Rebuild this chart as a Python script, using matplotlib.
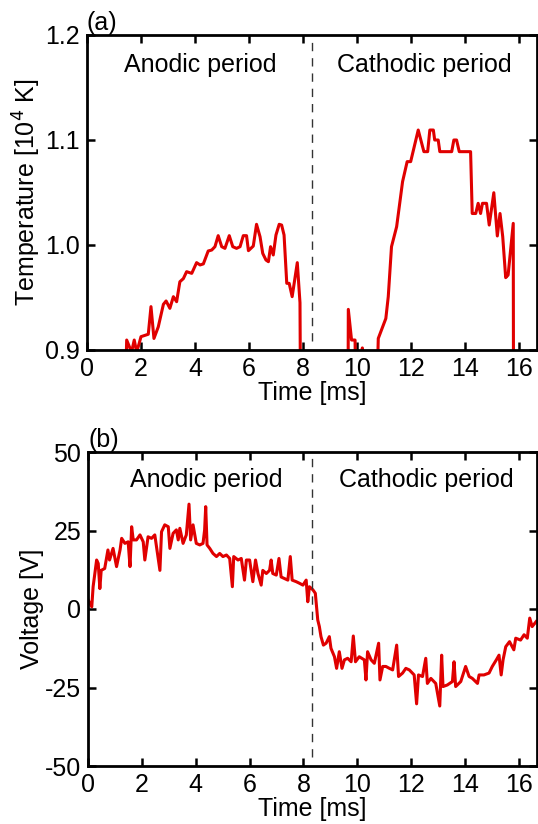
import matplotlib
matplotlib.use("Agg")
import matplotlib.pyplot as plt
from matplotlib.ticker import FormatStrFormatter, MultipleLocator

plt.rcParams['font.family'] = ['Liberation Sans', 'DejaVu Sans']
plt.rcParams['axes.unicode_minus'] = False

# ---------------- data ----------------
# Panel (a): temperature [10^4 K] vs time [ms]; values below 0.9 are off-scale
temp_time = [1.44, 1.47, 1.65, 1.75, 1.84, 1.93, 2.00, 2.27, 2.37, 2.48, 2.64, 2.83, 2.93, 3.07,
             3.20, 3.32, 3.44, 3.57, 3.69, 3.88, 4.06, 4.19, 4.31, 4.49, 4.62, 4.74, 4.86, 4.99,
             5.11, 5.27, 5.40, 5.54, 5.67, 5.79, 5.91, 5.98, 6.16, 6.28, 6.41, 6.51, 6.63, 6.72,
             6.80, 6.90, 7.00, 7.12, 7.21, 7.30, 7.40, 7.49, 7.60, 7.79, 7.89, 7.91,
             9.67, 9.68, 9.80, 9.93, 9.96, 10.15, 10.20, 10.25, 10.73, 10.79, 11.07, 11.16, 11.28,
             11.47, 11.69, 11.86, 11.99, 12.27, 12.48, 12.62, 12.70, 12.83, 12.88, 13.01, 13.07,
             13.51, 13.59, 13.69, 13.79, 14.21, 14.27, 14.40, 14.49, 14.58, 14.65, 14.80, 14.90,
             15.07, 15.20, 15.30, 15.40, 15.51, 15.60, 15.79, 15.80]
temp_value = [0.880, 0.9095, 0.898, 0.9095, 0.898, 0.906, 0.9127, 0.915, 0.9413, 0.911, 0.922,
              0.9435, 0.9467, 0.9397, 0.9508, 0.946, 0.965, 0.968, 0.9746, 0.973, 0.9832, 0.981,
              0.982, 0.9943, 0.9952, 0.9984, 1.0089, 0.9984, 0.9968, 1.0089, 0.9984, 0.9968,
              0.9984, 1.0089, 1.0089, 0.9946, 0.999, 1.0197, 1.0079, 0.992, 0.9857, 0.9841,
              0.9984, 0.9905, 1.0095, 1.0197, 1.019, 1.0095, 0.9635, 0.9635, 0.9508, 0.9832,
              0.945, 0.850,
              0.850, 0.9387, 0.9095, 0.9095, 0.850, 0.850, 0.902, 0.850, 0.850, 0.911, 0.930,
              0.9508, 0.9984, 1.0174, 1.0603, 1.0794, 1.0794, 1.1095, 1.0889, 1.0889, 1.1095,
              1.1095, 1.100, 1.100, 1.0889, 1.0889, 1.100, 1.100, 1.0889, 1.0889, 1.030, 1.030,
              1.0397, 1.030, 1.0397, 1.0397, 1.019, 1.0498, 1.0086, 1.030, 1.008, 0.9689, 0.9714,
              1.0206, 0.850]

# Panel (b): voltage [V] vs time [ms]
volt_time = [0.00, 0.14, 0.19, 0.32, 0.38, 0.44, 0.49, 0.62, 0.74, 0.80, 0.93, 1.06, 1.19, 1.25,
             1.37, 1.49, 1.56, 1.62, 1.68, 1.80, 1.93, 2.05, 2.11, 2.23, 2.36, 2.48, 2.67, 2.73,
             2.85, 2.98, 3.04, 3.16, 3.28, 3.35, 3.41, 3.53, 3.65, 3.75, 3.81, 3.90, 4.02, 4.15,
             4.27, 4.33, 4.37, 4.42, 4.52, 4.64, 4.77, 4.89, 5.01, 5.14, 5.26, 5.36, 5.41, 5.57,
             5.69, 5.81, 5.88, 6.00, 6.12, 6.22, 6.31, 6.43, 6.49, 6.62, 6.74, 6.80, 6.86, 6.99,
             7.09, 7.17, 7.30, 7.42, 7.51, 7.58, 7.73, 7.85, 7.98, 8.10, 8.16, 8.22, 8.35, 8.44,
             8.53, 8.59, 8.65, 8.74, 8.84, 8.96, 9.02, 9.15, 9.23, 9.33, 9.43, 9.52, 9.64, 9.77,
             9.85, 9.93, 10.07, 10.26, 10.32, 10.38, 10.51, 10.63, 10.79, 10.84, 10.94, 11.06,
             11.19, 11.31, 11.46, 11.53, 11.68, 11.80, 11.93, 12.11, 12.20, 12.27, 12.42, 12.54,
             12.60, 12.73, 12.91, 13.06, 13.13, 13.18, 13.34, 13.53, 13.59, 13.65, 13.84, 14.02,
             14.15, 14.27, 14.46, 14.52, 14.70, 14.89, 15.01, 15.16, 15.26, 15.34, 15.41, 15.51,
             15.65, 15.81, 15.88, 16.06, 16.19, 16.31, 16.40, 16.49, 16.64]
volt_value = [3.0, 0.7, 7.1, 15.6, 14.5, 6.5, 12.3, 12.9, 18.8, 15.6, 19.3, 13.5, 18.8, 22.5,
              20.9, 21.4, 13.5, 26.2, 22.0, 22.0, 23.6, 21.4, 15.6, 23.0, 22.5, 23.6, 12.3, 24.6,
              26.8, 26.2, 19.3, 24.1, 25.2, 22.0, 25.7, 20.9, 23.6, 33.4, 22.0, 26.8, 20.9, 20.4,
              20.9, 25.2, 32.6, 20.4, 19.3, 17.7, 16.7, 17.7, 16.7, 17.2, 16.1, 7.1, 16.7, 15.6,
              16.1, 9.2, 15.6, 15.6, 8.7, 15.6, 11.3, 7.6, 12.3, 11.3, 12.3, 15.6, 11.3, 10.8,
              16.1, 10.2, 9.7, 9.2, 16.7, 9.2, 8.7, 8.2, 7.6, 9.2, 2.3, 7.1, 6.1, 5.0,
              -3.5, -5.6, -8.8, -11.5, -10.9, -8.8, -12.5, -15.2, -18.9, -13.6, -18.9, -16.2,
              -15.7, -16.8, -8.6, -16.8, -15.2, -16.2, -22.6, -13.6, -16.2, -17.3, -10.9, -22.6,
              -18.3, -18.3, -18.9, -19.4, -11.5, -21.5, -20.4, -18.9, -19.4, -21.0, -30.2, -21.0,
              -21.5, -15.7, -23.7, -22.1, -23.7, -30.9, -14.7, -24.7, -24.2, -23.1, -16.8, -24.7,
              -23.1, -18.3, -21.5, -22.1, -23.7, -21.0, -21.0, -20.4, -18.3, -16.2, -14.7, -21.0,
              -16.2, -12.0, -10.4, -13.0, -9.3, -9.9, -8.2, -9.3, -2.9, -5.6, -4.0]

half_period = 8.33
period_labels = ["Anodic period", "Cathodic period"]

# ---------------- figure ----------------
W, H = 538, 824
fig = plt.figure(figsize=(W / 100, H / 100), dpi=100)
red = '#e00000'
fs = 18

ax1 = fig.add_axes([87 / W, 1 - 350 / H, 450 / W, 315 / H])
ax2 = fig.add_axes([88 / W, 1 - 766 / H, 449 / W, 314 / H])

for ax in (ax1, ax2):
    for s in ax.spines.values():
        s.set_linewidth(2.0)
    ax.tick_params(direction='in', length=6, width=1.8, top=True, right=True,
                   labelsize=fs, pad=5)
    ax.set_xlim(0, 16.67)
    ax.xaxis.set_major_locator(MultipleLocator(2))
    ax.set_xlabel('Time [ms]', fontsize=fs, labelpad=0)
    ax.yaxis.set_label_coords(-0.098, 0.5)

ax1.plot(temp_time, temp_value, color=red, lw=2.2)
ax1.set_ylim(0.9, 1.2)
ax1.set_yticks([0.9, 1.0, 1.1, 1.2])
ax1.yaxis.set_major_formatter(FormatStrFormatter('%.1f'))
ax1.set_ylabel('Temperature [10$^4$ K]', fontsize=fs)
ax1.axvline(half_period, ymin=0.03, ymax=1.0, color='#333333', lw=1.0, ls=(0, (6, 5)))
ax1.text(4.19, 1.171, period_labels[0], fontsize=fs, ha='center', va='center')
ax1.text(12.5, 1.171, period_labels[1], fontsize=fs, ha='center', va='center')
ax1.text(0.0, 1.0, '(a)', transform=ax1.transAxes, fontsize=fs, ha='left', va='bottom')

ax2.plot(volt_time, volt_value, color=red, lw=2.2)
ax2.set_ylim(-50, 50)
ax2.set_yticks([-50, -25, 0, 25, 50])
ax2.set_ylabel('Voltage [V]', fontsize=fs)
ax2.axvline(half_period, ymin=0.03, ymax=1.0, color='#333333', lw=1.0, ls=(0, (6, 5)))
ax2.text(4.4, 41, period_labels[0], fontsize=fs, ha='center', va='center')
ax2.text(12.55, 41, period_labels[1], fontsize=fs, ha='center', va='center')
ax2.text(0.0, 1.0, '(b)', transform=ax2.transAxes, fontsize=fs, ha='left', va='bottom')

fig.savefig('out.png', dpi=100)
